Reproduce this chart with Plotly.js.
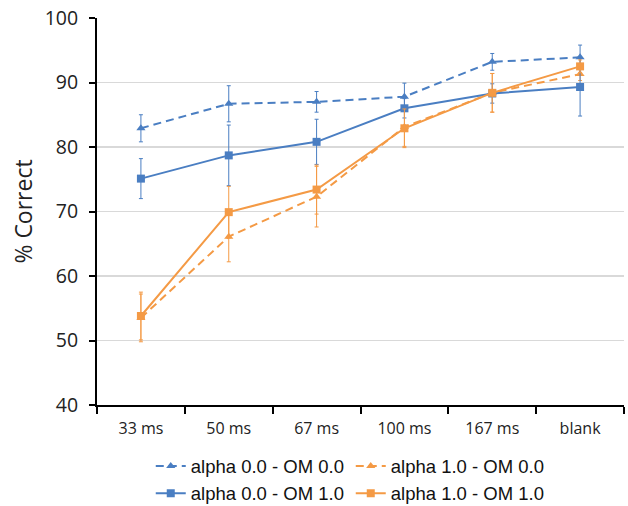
<!DOCTYPE html>
<html><head><meta charset="utf-8">
<script src="https://cdn.plot.ly/plotly-3.0.1.min.js"></script>
<style>html,body{margin:0;padding:0;background:#fff}#chart{width:628px;height:506px}</style>
</head><body><div id="chart"></div>
<script>
const categories = ["33 ms", "50 ms", "67 ms", "100 ms", "167 ms", "blank"];
const a0om0 = [82.9, 86.7, 87.0, 87.8, 93.2, 93.9];
const a0om0Err = [2.1, 2.8, 1.6, 2.1, 1.3, 1.9];
const a1om0 = [53.5, 66.1, 72.3, 83.1, 88.4, 91.3];
const a1om0Err = [3.7, 3.9, 4.7, 3.0, 3.0, 1.0];
const a0om1 = [75.1, 78.7, 80.8, 86.0, 88.3, 89.3];
const a0om1Err = [3.1, 4.7, 3.5, 1.5, 1.5, 4.5];
const a1om1 = [53.8, 69.9, 73.4, 82.9, 88.4, 92.5];
const a1om1Err = [3.7, 4.0, 3.8, 3.0, 3.0, 1.0];

const blue = "#4A7EC2", orange = "#F49A45";
function tr(name, y, err, color, dash, symbol) {
  return {
    type: "scatter", mode: "lines+markers", name: name, x: categories, y: y,
    line: {color: color, width: 2, dash: dash},
    marker: {color: color, symbol: symbol, size: 8},
    error_y: {type: "data", array: err, visible: true, color: color, thickness: 1, width: 2}
  };
}
const data = [
  tr("alpha 0.0 - OM 0.0", a0om0, a0om0Err, blue, "8px,5px", "triangle-up"),
  tr("alpha 1.0 - OM 0.0", a1om0, a1om0Err, orange, "8px,5px", "triangle-up"),
  tr("alpha 0.0 - OM 1.0", a0om1, a0om1Err, blue, "solid", "square"),
  tr("alpha 1.0 - OM 1.0", a1om1, a1om1Err, orange, "solid", "square")
];
const layout = {
  width: 628, height: 506,
  margin: {l: 97, r: 4, t: 18, b: 101, autoexpand: false},
  paper_bgcolor: "#fff", plot_bgcolor: "#fff",
  font: {family: "Liberation Sans, Arial, sans-serif", color: "#222"},
  showlegend: true,
  legend: {orientation: "h", x: 0.102, xanchor: "left", y: -0.11, yanchor: "top",
    font: {size: 18.5, color: "#111"}, entrywidth: 155, tracegroupgap: 0, itemwidth: 30},
  xaxis: {type: "category", range: [-0.5, 5.5], showline: true, linecolor: "#000", linewidth: 2,
    ticks: "outside", tickson: "boundaries", ticklen: 7, tickwidth: 2, tickcolor: "#000",
    ticklabelstandoff: 8,
    showgrid: false, tickfont: {size: 16, family: "Open Sans, sans-serif", color: "#222"}, fixedrange: true},
  yaxis: {range: [40, 100], dtick: 10, showline: true, linecolor: "#000", linewidth: 2,
    ticks: "outside", ticklen: 6, tickwidth: 2, tickcolor: "#000", ticklabelstandoff: 7,
    showgrid: true, gridcolor: "#d9d9d9", gridwidth: 1.5, zeroline: false,
    tickfont: {size: 19.5, family: "Open Sans, sans-serif", color: "#222"},
    title: {text: "% Correct", font: {size: 23, family: "Open Sans, sans-serif", color: "#222"}, standoff: 6}}
};
Plotly.newPlot("chart", data, layout, {displayModeBar: false, staticPlot: true});
</script></body></html>
